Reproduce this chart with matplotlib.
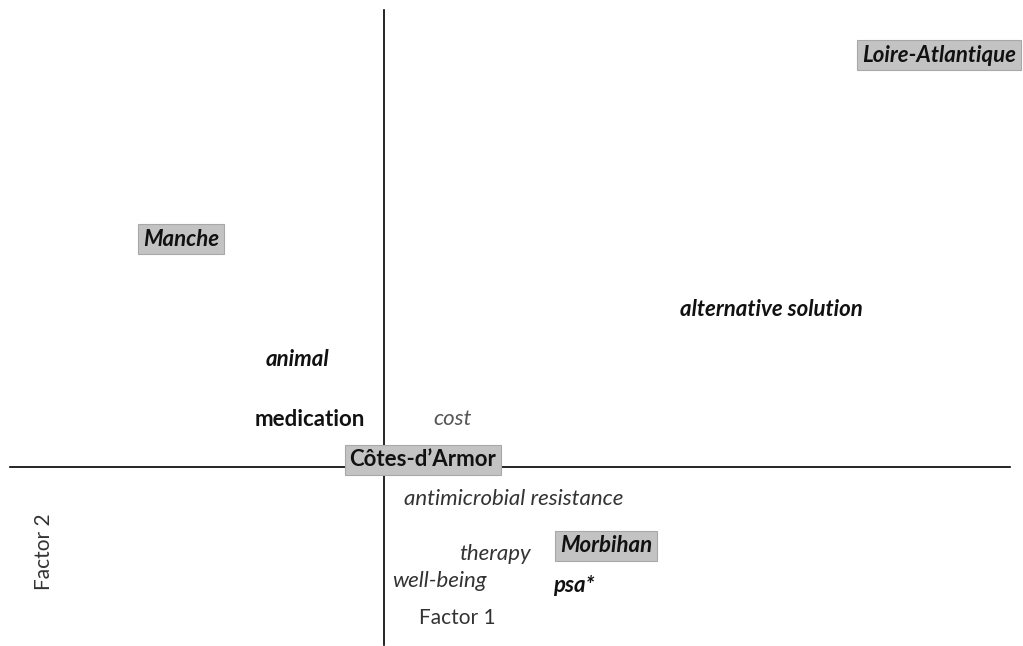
import matplotlib
matplotlib.use("Agg")
import matplotlib.pyplot as plt

# Correspondence-analysis coordinates (Factor 1, Factor 2)
labels = ["Loire-Atlantique", "Manche", "alternative solution", "animal", "medication",
          "cost", "Côtes-d\u2019Armor", "antimicrobial resistance", "therapy", "Morbihan",
          "well-being", "psa*"]
factor1 = [5.55, -2.03, 3.87, -0.87, -0.74, 0.69, 0.39, 1.30, 1.11, 2.22, 0.55, 1.90]
factor2 = [4.12, 2.28, 1.58, 1.08, 0.48, 0.48, 0.07, -0.32, -0.87, -0.79, -1.14, -1.19]
kind = ["region", "region", "bold_it", "bold_it", "bold", "light_it", "region_up",
        "it", "it", "region", "it", "bold_it"]

plt.rcParams['font.family'] = ['Lato', 'DejaVu Sans']
fig = plt.figure(figsize=(10.23, 6.46), dpi=100)
ax = fig.add_axes([0, 0, 1, 1])
ax.set_xlim(-3.84, 6.39)
ax.set_ylim(-1.79, 4.67)
ax.axis('off')

ax.plot([-3.74, 6.26], [0, 0], color='black', lw=1.2)
ax.plot([0, 0], [-1.78, 4.57], color='black', lw=1.2)

box = dict(boxstyle='square,pad=0.22', facecolor='#c3c3c3', edgecolor='#a8a8a8', lw=0.8)
for lab, x, y, k in zip(labels, factor1, factor2, kind):
    kw = dict(ha='center', va='center', fontsize=16)
    if k in ('region',):
        kw.update(fontweight='bold', fontstyle='italic', color='#111111', bbox=box)
    elif k == 'region_up':
        kw.update(fontweight='bold', color='#111111', bbox=box)
    elif k == 'bold_it':
        kw.update(fontweight='bold', fontstyle='italic', color='#111111')
    elif k == 'bold':
        kw.update(fontweight='bold', color='#111111')
    elif k == 'light_it':
        kw.update(fontstyle='italic', color='#555555')
    else:
        kw.update(fontstyle='italic', color='#333333')
    ax.text(x, y, lab, **kw)

ax.text(0.73, -1.51, "Factor 1", ha='center', va='center', fontsize=15, color='#333333')
ax.text(-3.40, -0.85, "Factor 2", ha='center', va='center', fontsize=15, color='#333333',
        rotation=90)

fig.savefig("out.png", dpi=100)
